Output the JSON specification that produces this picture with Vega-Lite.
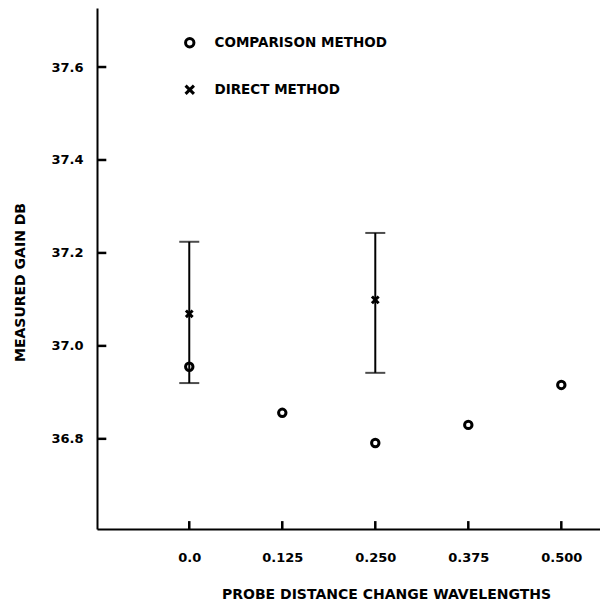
{
  "$schema": "https://vega.github.io/schema/vega-lite/v6.json",
  "autosize": "none",
  "width": 503,
  "height": 521,
  "padding": {"left": 97, "top": 8, "right": 0, "bottom": 76},
  "background": "white",
  "config": {
    "view": {"stroke": null},
    "font": "DejaVu Sans",
    "axis": {
      "grid": false,
      "domainColor": "black",
      "domainWidth": 2,
      "tickColor": "black",
      "tickWidth": 2.5,
      "labelFont": "DejaVu Sans",
      "labelFontWeight": "bold",
      "labelFontSize": 13,
      "labelColor": "black",
      "titleFont": "DejaVu Sans",
      "titleFontWeight": "bold",
      "titleFontSize": 14,
      "titleColor": "black"
    }
  },
  "datasets": {
    "comparison": [
      {"distance": 0.0, "gain": 36.955, "method": "COMPARISON METHOD"},
      {"distance": 0.125, "gain": 36.856, "method": "COMPARISON METHOD"},
      {"distance": 0.25, "gain": 36.791, "method": "COMPARISON METHOD"},
      {"distance": 0.375, "gain": 36.83, "method": "COMPARISON METHOD"},
      {"distance": 0.5, "gain": 36.916, "method": "COMPARISON METHOD"}
    ],
    "direct": [
      {"distance": 0.0, "gain": 37.069, "low": 36.92, "high": 37.224, "method": "DIRECT METHOD"},
      {"distance": 0.25, "gain": 37.099, "low": 36.942, "high": 37.243, "method": "DIRECT METHOD"}
    ],
    "xticks": [
      {"distance": 0.0}, {"distance": 0.125}, {"distance": 0.25}, {"distance": 0.375}, {"distance": 0.5}
    ],
    "yticks": [
      {"gain": 36.8}, {"gain": 37.0}, {"gain": 37.2}, {"gain": 37.4}, {"gain": 37.6}
    ]
  },
  "layer": [
    {
      "data": {"name": "direct"},
      "mark": {"type": "rule", "color": "black", "strokeWidth": 2},
      "encoding": {
        "x": {"field": "distance", "type": "quantitative",
          "scale": {"domain": [-0.124, 0.552], "nice": false, "zero": false},
          "axis": {
            "values": [0, 0.125, 0.25, 0.375, 0.5],
            "labelExpr": "datum.value == 0 ? '0.0' : format(datum.value, '.3f')",
            "ticks": false,
            "tickSize": 0,
            "labelPadding": 22,
            "title": "PROBE DISTANCE CHANGE WAVELENGTHS",
            "titleX": 289,
            "titleY": 69,
            "titleBaseline": "alphabetic"
          }
        },
        "y": {"field": "low", "type": "quantitative",
          "scale": {"domain": [36.606, 37.727], "nice": false, "zero": false},
          "axis": {
            "values": [36.8, 37.0, 37.2, 37.4, 37.6],
            "format": ".1f",
            "ticks": false,
            "tickSize": 0,
            "labelPadding": 14,
            "title": "MEASURED GAIN DB",
            "titleAngle": -90,
            "titleX": -77,
            "titleY": 274,
            "titleAlign": "center",
            "titleBaseline": "middle"
          }
        },
        "y2": {"field": "high"}
      }
    },
    {
      "data": {"name": "xticks"},
      "mark": {"type": "rule", "color": "black", "strokeWidth": 2.5},
      "encoding": {
        "x": {"field": "distance", "type": "quantitative"},
        "y": {"datum": 36.606},
        "y2": {"datum": 36.623}
      }
    },
    {
      "data": {"name": "yticks"},
      "mark": {"type": "rule", "color": "black", "strokeWidth": 2.5},
      "encoding": {
        "y": {"field": "gain", "type": "quantitative"},
        "x": {"datum": -0.124},
        "x2": {"datum": -0.1115}
      }
    },
    {
      "data": {"name": "direct"},
      "mark": {"type": "tick", "color": "black", "orient": "horizontal", "size": 20, "thickness": 2},
      "encoding": {
        "x": {"field": "distance", "type": "quantitative"},
        "y": {"field": "low", "type": "quantitative"}
      }
    },
    {
      "data": {"name": "direct"},
      "mark": {"type": "tick", "color": "black", "orient": "horizontal", "size": 20, "thickness": 2},
      "encoding": {
        "x": {"field": "distance", "type": "quantitative"},
        "y": {"field": "high", "type": "quantitative"}
      }
    },
    {
      "data": {"name": "comparison"},
      "mark": {"type": "point", "filled": false, "color": "black", "strokeWidth": 3, "size": 55, "opacity": 1},
      "encoding": {
        "x": {"field": "distance", "type": "quantitative"},
        "y": {"field": "gain", "type": "quantitative"},
        "shape": {"field": "method", "type": "nominal",
          "scale": {"domain": ["COMPARISON METHOD", "DIRECT METHOD"], "range": ["circle", "M-1,-1L1,1M1,-1L-1,1"]},
          "legend": {
            "title": null,
            "orient": "none",
            "legendX": 86,
            "legendY": 28,
            "labelFont": "DejaVu Sans",
            "labelFontWeight": "bold",
            "labelFontSize": 13.5,
            "labelColor": "black",
            "labelLimit": 400,
            "labelOffset": 18,
            "rowPadding": 26,
            "symbolSize": 70,
            "symbolStrokeWidth": 3,
            "symbolStrokeColor": "black",
            "symbolOpacity": 1
          }
        }
      }
    },
    {
      "data": {"name": "direct"},
      "mark": {"type": "point", "filled": false, "color": "black", "strokeWidth": 3, "size": 45, "opacity": 1},
      "encoding": {
        "x": {"field": "distance", "type": "quantitative"},
        "y": {"field": "gain", "type": "quantitative"},
        "shape": {"field": "method", "type": "nominal"}
      }
    }
  ]
}
